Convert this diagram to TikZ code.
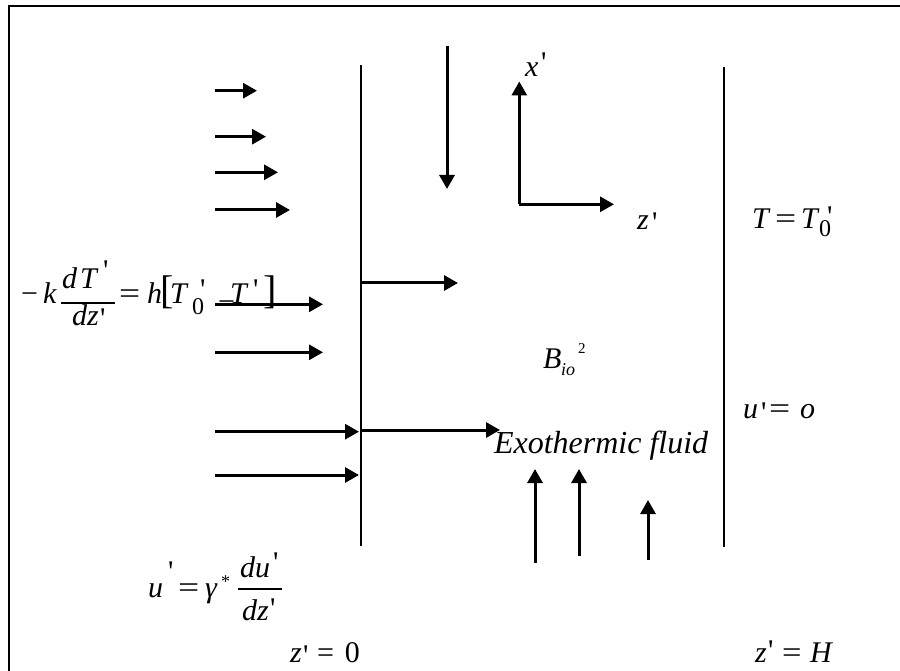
\documentclass[tikz,border=0pt]{standalone}
\usepackage{fontspec}
\usepackage{graphicx}
\usetikzlibrary{arrows.meta}
\newfontfamily\tnr{Liberation Serif}
\newcommand\at[2]{\makebox[0pt][l]{\hspace*{#1pt}#2}}
\newcommand\pr[1][4]{\raisebox{#1pt}{\upshape\char39}}
\newcommand\lo[3]{\raisebox{-#2pt}{\fontsize{#1}{#1}\selectfont #3}}
\newcommand\eqs[1][1.25]{\scalebox{#1}[1]{=}}
\tikzset{
  lbl/.style={inner sep=0pt, outer sep=0pt, anchor=base west},
  arr/.style={line width=3pt, -{Triangle[length=14pt,width=15pt]}},
  wall/.style={line width=2pt},
  fracbar/.style={line width=1.5pt},
  frame/.style={line width=2.6pt}
}
\begin{document}
\begin{tikzpicture}[x=1pt,y=-1pt,font=\tnr\fontsize{30}{36}\selectfont]
\useasboundingbox (0,0) rectangle (900,671);
\clip (0,0) rectangle (900,671);
% frame
\coordinate (fbl) at (9,700);
\coordinate (ftl) at (9,6);
\coordinate (ftr) at (930,6);
\draw[frame] (fbl) -- (ftl) -- (ftr);
% walls
\coordinate (lw1) at (360.5,65);
\coordinate (lw2) at (360.5,546);
\coordinate (rw1) at (724,67);
\coordinate (rw2) at (724,547);
\draw[wall] (lw1) -- (lw2);
\draw[wall] (rw1) -- (rw2);
% down arrow
\coordinate (d1) at (447,46);
\coordinate (d2) at (447,189);
\draw[arr] (d1) -- (d2);
% left arrows
\coordinate (a1s) at (215,90.7);  \coordinate (a1e) at (257,90.7);
\coordinate (a2s) at (215,136.7); \coordinate (a2e) at (266,136.7);
\coordinate (a3s) at (215,172.3); \coordinate (a3e) at (278,172.3);
\coordinate (a4s) at (215,210);   \coordinate (a4e) at (290,210);
\coordinate (a5s) at (215,304.3); \coordinate (a5e) at (323,304.3);
\coordinate (a6s) at (215,352.3); \coordinate (a6e) at (323,352.3);
\coordinate (a7s) at (215,431.7); \coordinate (a7e) at (359,431.7);
\coordinate (a8s) at (215,475);   \coordinate (a8e) at (359,475);
\foreach \i in {1,...,8} {\draw[arr] (a\i s) -- (a\i e);}
% arrows from wall
\coordinate (w1s) at (361,283); \coordinate (w1e) at (458,283);
\coordinate (w2s) at (361,430); \coordinate (w2e) at (500,430);
\draw[arr] (w1s) -- (w1e);
\draw[arr] (w2s) -- (w2e);
% up arrows
\coordinate (u1s) at (535,563); \coordinate (u1e) at (535,469);
\coordinate (u2s) at (579,556); \coordinate (u2e) at (579,469);
\coordinate (u3s) at (648,560); \coordinate (u3e) at (648,500);
\draw[arr] (u1s) -- (u1e);
\draw[arr] (u2s) -- (u2e);
\draw[arr] (u3s) -- (u3e);
% axes
\coordinate (o) at (519.3,204.3);
\coordinate (ox) at (519.3,81.5);
\coordinate (oz) at (614,204.3);
\draw[arr] (o) -- (ox);
\draw[arr] (o) -- (oz);
% labels
\node[lbl] (lx) at (525,77) {\at{0}{\itshape x}\at{16}{\pr}\hspace*{22pt}};
\node[lbl] (lz) at (637,230) {\at{0}{\itshape z}\at{15}{\pr[-2]}\hspace*{20pt}};
\node[lbl] (lT) at (752,229) {\at{0}{\itshape T}\at{23}{\eqs}\at{49}{\itshape T}\at{67}{\lo{24}{7.7}{0}}\at{75}{\pr[2]}\hspace*{82pt}};
\node[lbl] (lB) at (543,368) {\at{0}{\itshape B}\at{18}{\lo{18}{7}{\itshape io}}\at{35}{\raisebox{15pt}{\fontsize{15}{15}\selectfont 2}}\hspace*{43pt}};
\node[lbl] (lu) at (743,418) {\at{0}{\itshape u}\at{18}{\pr[-4]}\at{26}{\eqs}\at{57}{\itshape o}\hspace*{73pt}};
\node[lbl, font=\tnr\itshape\fontsize{32}{38}\selectfont] (lE) at (494,453) {Exothermic fluid};
% left equation
\node[lbl] (lk) at (21,303) {\at{0}{\char"2212}\at{22}{\itshape k}\hspace*{35pt}};
\node[lbl] (lnum) at (62,289) {\at{0}{\itshape d}\at{18}{\itshape T}\at{41}{\pr[9]}\hspace*{47pt}};
\coordinate (b1a) at (61,303); \coordinate (b1b) at (115,303);
\draw[fracbar] (b1a) -- (b1b);
\node[lbl] (lden) at (72,325) {\at{0}{\itshape d}\at{15}{\itshape z}\at{28}{\pr[-3]}\hspace*{33pt}};
\node[lbl] (lrhs) at (119,303) {\at{0}{\eqs}\at{28}{\itshape h}\at{41}{\fontsize{40}{40}\selectfont[}\at{51}{\itshape T}\at{73}{\lo{24}{12}{0}}\at{81}{\pr[4]}\at{99}{\raisebox{-8pt}{\char"2212}}\at{111}{\itshape T}\at{134}{\pr[4]}\at{144}{\fontsize{40}{40}\selectfont]}\hspace*{152pt}};
% bottom-left equation
\node[lbl] (lu2) at (148,597) {\at{0}{\itshape u}\at{20}{\pr[16]}\at{30}{\eqs}\at{57}{\itshape\char"03B3}\at{73}{\raisebox{10pt}{\fontsize{18}{18}\selectfont *}}\hspace*{80pt}};
\node[lbl] (lnum2) at (240,577) {\at{0}{\itshape d}\at{15}{\itshape u}\at{33}{\pr[4.7]}\hspace*{38pt}};
\coordinate (b2a) at (238,589); \coordinate (b2b) at (282,589);
\draw[fracbar] (b2a) -- (b2b);
\node[lbl] (lden2) at (242,620) {\at{0}{\itshape d}\at{15}{\itshape z}\at{28}{\pr[1.4]}\hspace*{33pt}};
% bottom labels
\node[lbl] (lz0) at (290,662) {\at{0}{\itshape z}\at{13}{\pr[-3.6]}\at{27}{=}\at{55}{0}\hspace*{69pt}};
\node[lbl] (lzH) at (755,662) {\at{0}{\itshape z}\at{13}{\pr[1.4]}\at{27}{\eqs[1.15]}\at{55}{\itshape H}\hspace*{82pt}};
\end{tikzpicture}
\end{document}
